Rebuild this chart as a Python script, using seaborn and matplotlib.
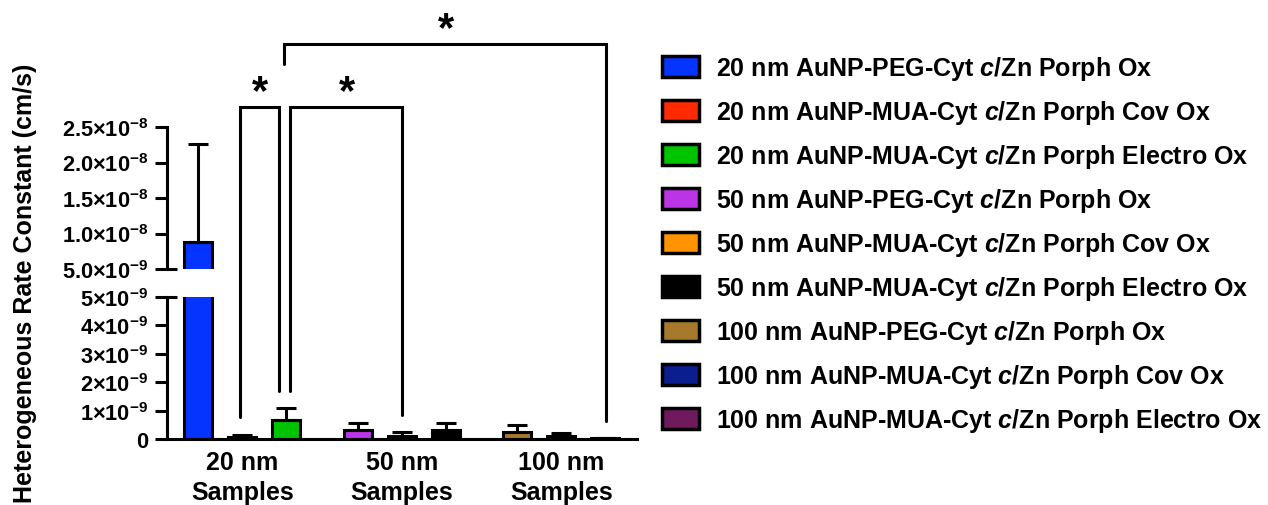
import numpy as np
import pandas as pd
import matplotlib
matplotlib.use("Agg")
import matplotlib.pyplot as plt
from matplotlib.patches import Patch
import seaborn as sns

# ---------------- data ----------------
group_labels = ["20 nm\nSamples", "50 nm\nSamples", "100 nm\nSamples"]
series_labels = [
    "20 nm AuNP-PEG-Cyt $\\mathit{c}$/Zn Porph Ox",
    "20 nm AuNP-MUA-Cyt $\\mathit{c}$/Zn Porph Cov Ox",
    "20 nm AuNP-MUA-Cyt $\\mathit{c}$/Zn Porph Electro Ox",
    "50 nm AuNP-PEG-Cyt $\\mathit{c}$/Zn Porph Ox",
    "50 nm AuNP-MUA-Cyt $\\mathit{c}$/Zn Porph Cov Ox",
    "50 nm AuNP-MUA-Cyt $\\mathit{c}$/Zn Porph Electro Ox",
    "100 nm AuNP-PEG-Cyt $\\mathit{c}$/Zn Porph Ox",
    "100 nm AuNP-MUA-Cyt $\\mathit{c}$/Zn Porph Cov Ox",
    "100 nm AuNP-MUA-Cyt $\\mathit{c}$/Zn Porph Electro Ox",
]
series_group = [0, 0, 0, 1, 1, 1, 2, 2, 2]
series_slot = [0, 1, 2, 0, 1, 2, 0, 1, 2]
mean_rate = [8.8e-9, 0.07e-9, 0.68e-9, 0.30e-9, 0.12e-9, 0.32e-9, 0.23e-9, 0.10e-9, 0.02e-9]
sd_rate = [13.8e-9, 0.07e-9, 0.40e-9, 0.26e-9, 0.13e-9, 0.23e-9, 0.26e-9, 0.12e-9, 0.01e-9]
series_colors = ["#0533FF", "#FF2A00", "#00C400", "#BB35E6", "#FF9300",
                 "#000000", "#A67A2C", "#0A1E90", "#701A5E"]

upper_ticks = [5e-9, 1e-8, 1.5e-8, 2e-8, 2.5e-8]
upper_ticklabels = ["5.0×10$^{-9}$", "1.0×10$^{-8}$", "1.5×10$^{-8}$",
                    "2.0×10$^{-8}$", "2.5×10$^{-8}$"]
lower_ticks = [0, 1e-9, 2e-9, 3e-9, 4e-9, 5e-9]
lower_ticklabels = ["0", "1×10$^{-9}$", "2×10$^{-9}$", "3×10$^{-9}$",
                    "4×10$^{-9}$", "5×10$^{-9}$"]
ylabel = "Heterogeneous Rate Constant (cm/s)"
star = "*"

# ---------------- style ----------------
sns.set_style("ticks")
plt.rcParams["font.family"] = ["Liberation Sans", "DejaVu Sans"]
plt.rcParams["font.weight"] = "bold"
plt.rcParams["mathtext.fontset"] = "custom"
plt.rcParams["mathtext.rm"] = "Liberation Sans:bold"
plt.rcParams["mathtext.bf"] = "Liberation Sans:bold"
plt.rcParams["mathtext.it"] = "Liberation Sans:italic:bold"
plt.rcParams["mathtext.default"] = "regular"
for key in ("text.color", "axes.labelcolor", "xtick.color", "ytick.color",
            "axes.edgecolor"):
    plt.rcParams[key] = "black"

LW = 2.2
GROUP_GAP = 3.63
positions = [g * GROUP_GAP + s for g, s in zip(series_group, series_slot)]
group_centers = [g * GROUP_GAP + 1 for g in range(len(group_labels))]

df = pd.DataFrame({"pos": positions, "rate": mean_rate, "series": series_labels})

W, H = 1268, 506
fig = plt.figure(figsize=(W / 100, H / 100), dpi=100)
ax_top = fig.add_axes([167 / W, 1 - 270 / H, 470 / W, 142 / H])
ax_bot = fig.add_axes([167 / W, 1 - 440 / H, 470 / W, 142 / H])

for ax in (ax_top, ax_bot):
    sns.barplot(data=df, x="pos", y="rate", hue="series", hue_order=series_labels,
                palette=series_colors, native_scale=True, dodge=False, width=0.64,
                edgecolor="black", linewidth=LW, errorbar=None, legend=False,
                saturation=1, ax=ax)
    ax.errorbar(positions, mean_rate, yerr=[np.zeros(len(sd_rate)), sd_rate],
                fmt="none", ecolor="black", elinewidth=LW, capsize=7.5,
                capthick=LW, zorder=3)
    ax.set_xlim(-0.71, 9.98)
    ax.set_xlabel("")
    ax.set_ylabel("")
    for side in ("top", "right"):
        ax.spines[side].set_visible(False)
    for side in ("left", "bottom"):
        ax.spines[side].set_linewidth(LW)
    ax.tick_params(axis="y", direction="out", length=8.5, width=LW, pad=5,
                   labelsize=15.7)

ax_top.set_ylim(5e-9, 2.5e-8)
ax_top.set_yticks(upper_ticks, upper_ticklabels)
ax_top.spines["bottom"].set_visible(False)
ax_top.set_xticks([])

ax_bot.set_ylim(0, 5e-9)
ax_bot.set_yticks(lower_ticks, lower_ticklabels)
ax_bot.set_xticks(group_centers, group_labels)
ax_bot.tick_params(axis="x", length=0, pad=8, labelsize=18)
for lab in ax_bot.get_xticklabels():
    lab.set_fontweight("bold")
    lab.set_linespacing(1.3)
for ax in (ax_top, ax_bot):
    for lab in ax.get_yticklabels():
        lab.set_fontweight("bold")

# break marks (right-hand half of the T at the axis break)
d = 10 / 470
ax_top.plot([0, d], [0, 0], transform=ax_top.transAxes, color="black", lw=LW,
            clip_on=False, solid_capstyle="butt")
ax_bot.plot([0, d], [1, 1], transform=ax_bot.transAxes, color="black", lw=LW,
            clip_on=False, solid_capstyle="butt")

# significance brackets (lower-axis data coordinates)
brackets = [
    ((0.955, 0.77e-9), (0.955, 11.69e-9), (1.84, 11.69e-9), (1.84, 1.69e-9)),
    ((2.09, 1.69e-9), (2.09, 11.69e-9), (4.64, 11.69e-9), (4.64, 0.85e-9)),
    ((1.95, 13.2e-9), (1.95, 13.91e-9), (9.27, 13.91e-9), (9.27, 0.63e-9)),
]
for pts in brackets:
    xs, ys = zip(*pts)
    ax_bot.plot(xs, ys, color="black", lw=LW, clip_on=False,
                solid_joinstyle="miter", zorder=5)
star_pos = [(1.41, 12.2e-9), (3.39, 12.2e-9), (5.64, 14.44e-9)]
for sx, sy in star_pos:
    ax_bot.text(sx, sy, star, ha="center", va="center", fontsize=30,
                fontweight="bold", clip_on=False)

fig.text(25 / W, 1 - 283 / H, ylabel, rotation=90, ha="center", va="center",
         fontsize=18, fontweight="bold")

handles = [Patch(facecolor=c, edgecolor="black", linewidth=2.5) for c in series_colors]
fig.legend(handles, series_labels, loc="upper left", bbox_to_anchor=(662 / W, 1 - 55 / H),
           frameon=False, borderpad=0, borderaxespad=0,
           handlelength=1.48, handleheight=0.88, handletextpad=0.68,
           labelspacing=0.64, prop={"weight": "bold", "size": 18})

fig.savefig("out.png", dpi=100)
